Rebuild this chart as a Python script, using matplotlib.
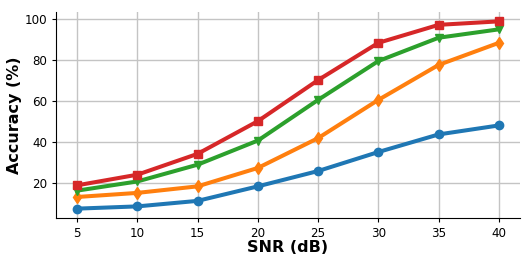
import matplotlib
matplotlib.use("Agg")
import matplotlib.pyplot as plt

snr = [5, 10, 15, 20, 25, 30, 35, 40]
blue = [7.3, 8.4, 11.1, 18.2, 25.7, 35.0, 43.6, 48.0]
orange = [13.0, 15.0, 18.2, 27.2, 41.8, 60.5, 77.6, 88.4]
green = [16.1, 20.6, 28.8, 40.6, 60.5, 79.5, 90.9, 95.0]
red = [18.7, 23.9, 34.1, 50.1, 70.2, 88.4, 97.2, 98.9]

fig = plt.figure(figsize=(5.32, 2.66), dpi=100)
ax = fig.add_axes([56/532, 1 - 218/266, (520-56)/532, (218-12)/266])

series = [(blue, '#1f77b4', 'o'), (orange, '#ff7f0e', 'd'),
          (green, '#2ca02c', 'v'), (red, '#d62728', 's')]
for vals, c, m in series:
    ax.plot(snr, vals, color=c, marker=m, linewidth=2.9, markersize=6)

ax.set_xticks(snr)
ax.set_yticks([20, 40, 60, 80, 100])
ax.grid(True, color='#c4c4c4', linewidth=1.0)
ax.set_axisbelow(True)
ax.spines['top'].set_visible(False)
ax.spines['right'].set_visible(False)
ax.tick_params(labelsize=8.6, length=3)
ax.set_xlabel('SNR (dB)', fontsize=11.5, fontweight='bold', labelpad=0)
ax.set_ylabel('Accuracy (%)', fontsize=11.5, fontweight='bold', labelpad=2)

fig.savefig('out.png', dpi=100)
